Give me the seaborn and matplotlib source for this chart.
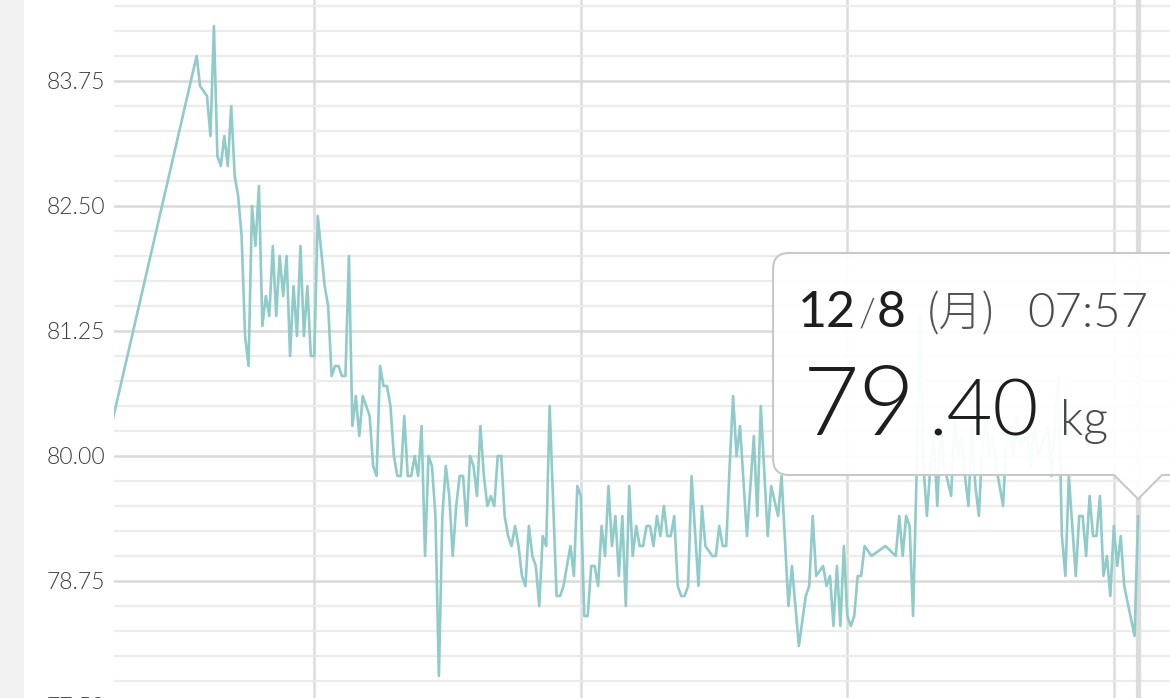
import pandas as pd
import seaborn as sns
import matplotlib.pyplot as plt
import matplotlib.dates as mdates
from matplotlib.ticker import MultipleLocator, FormatStrFormatter
from matplotlib.patches import PathPatch, Rectangle
from matplotlib.path import Path
from matplotlib.transforms import IdentityTransform

# 体重の記録 (最後の計測日からの日数, kg)
last_day = pd.Timestamp('2025-12-08')
days = [
    -302, -272, -271, -269, -268, -267, -266, -265, -264, -263,
    -262, -261, -260, -259, -258, -257, -256, -255, -254, -253,
    -252, -251, -250, -249, -248, -247, -246, -245, -244, -243,
    -242, -241, -240, -239, -238, -237, -235, -234, -233, -232,
    -231, -230, -229, -228, -227, -226, -225, -224, -223, -222,
    -221, -220, -219, -218, -217, -216, -215, -214, -213, -212,
    -211, -210, -209, -208, -207, -206, -205, -204, -203, -202,
    -201, -200, -199, -198, -197, -196, -195, -194, -193, -192,
    -191, -190, -189, -188, -187, -186, -185, -184, -183, -182,
    -181, -180, -179, -178, -177, -176, -175, -174, -173, -172,
    -171, -170, -168, -167, -166, -164, -163, -162, -161, -160,
    -159, -158, -157, -156, -155, -154, -153, -152, -151, -150,
    -149, -148, -147, -146, -145, -144, -143, -142, -141, -140,
    -139, -138, -137, -136, -135, -134, -133, -132, -131, -130,
    -129, -127, -126, -125, -123, -122, -121, -120, -119, -118,
    -117, -116, -115, -113, -111, -110, -109, -107, -106, -104,
    -103, -101, -100, -99, -98, -96, -95, -94, -93, -91,
    -90, -89, -88, -87, -86, -85, -84, -83, -82, -81,
    -80, -79, -77, -73, -70, -69, -68, -67, -66, -65,
    -64, -63, -62, -61, -60, -59, -58, -57, -56, -54,
    -53, -52, -51, -50, -49, -48, -47, -46, -45, -44,
    -43, -42, -41, -39, -38, -37, -36, -35, -34, -32,
    -31, -30, -29, -27, -26, -25, -23, -22, -21, -20,
    -18, -17, -16, -15, -14, -13, -12, -11, -10, -9,
    -8, -7, -6, -5, -4, -1, 0,
]
weights = [
    79.5, 84.0, 83.7, 83.6, 83.2, 84.3, 83.0, 82.9, 83.2, 82.9,
    83.5, 82.8, 82.6, 82.2, 81.2, 80.9, 82.5, 82.1, 82.7, 81.3,
    81.6, 81.4, 82.1, 81.4, 82.0, 81.6, 82.0, 81.0, 81.7, 81.2,
    82.1, 81.2, 81.7, 81.0, 81.0, 82.4, 81.7, 81.5, 80.8, 80.9,
    80.9, 80.8, 80.8, 82.0, 80.3, 80.6, 80.2, 80.6, 80.5, 80.4,
    79.9, 79.8, 80.9, 80.7, 80.7, 80.5, 80.0, 79.8, 79.8, 80.4,
    79.8, 79.8, 80.0, 79.8, 80.3, 79.0, 80.0, 79.9, 79.4, 77.8,
    79.4, 79.9, 79.6, 79.0, 79.5, 79.8, 79.8, 79.3, 80.0, 79.9,
    79.6, 80.3, 79.8, 79.5, 79.6, 79.5, 80.0, 80.0, 79.4, 79.2,
    79.1, 79.3, 79.1, 78.8, 78.7, 79.3, 79.0, 78.9, 78.5, 79.2,
    79.1, 80.5, 78.6, 78.6, 78.7, 79.1, 78.8, 79.7, 79.6, 78.4,
    78.4, 78.9, 78.9, 78.7, 79.3, 79.0, 79.7, 79.1, 79.4, 78.8,
    79.4, 78.5, 79.7, 79.0, 79.3, 79.1, 79.1, 79.3, 79.3, 79.1,
    79.4, 79.2, 79.5, 79.2, 79.2, 79.4, 78.7, 78.6, 78.6, 78.7,
    79.8, 78.7, 79.5, 79.1, 79.0, 79.0, 79.3, 79.1, 79.1, 79.9,
    80.6, 80.0, 80.3, 79.2, 80.2, 79.4, 80.5, 79.2, 79.7, 79.4,
    79.8, 78.5, 78.9, 78.5, 78.1, 78.6, 78.7, 79.4, 78.8, 78.9,
    78.7, 78.8, 78.3, 78.9, 78.3, 79.1, 78.4, 78.3, 78.4, 78.8,
    78.8, 79.1, 79.0, 79.1, 79.0, 79.4, 79.0, 79.4, 79.3, 78.4,
    79.8, 81.4, 79.9, 79.4, 79.9, 80.2, 79.5, 80.3, 79.9, 79.6,
    80.4, 80.0, 80.2, 79.8, 79.5, 80.3, 79.7, 79.4, 80.1, 80.4,
    80.0, 80.2, 79.9, 79.5, 80.2, 80.3, 80.0, 80.4, 80.1, 80.2,
    79.9, 80.3, 80.0, 80.2, 80.3, 79.8, 80.8, 79.2, 78.8, 79.8,
    78.8, 79.4, 79.4, 79.0, 79.6, 79.2, 79.2, 79.6, 78.8, 79.0,
    78.6, 79.3, 78.9, 79.2, 78.7, 78.2, 79.4,
]
assert len(days) == len(weights)

# 縦線 (11週ごとの月曜日)
grid_dates = ['2025-04-14', '2025-06-30', '2025-09-15', '2025-12-01']

# ツールチップの文字
tip_date = ['12', '/', '8']
tip_weekday = '(月)'
tip_time = '07:57'
tip_unit = 'kg'

df = pd.DataFrame({
    'date': last_day + pd.to_timedelta(days, unit='D'),
    'kg': weights,
})

sns.set_theme(style='white')
plt.rcParams['font.family'] = ['Lato', 'Noto Sans CJK JP', 'DejaVu Sans']

W, H = 1170, 698
fig = plt.figure(figsize=(W / 100, H / 100), dpi=100)
fig.patch.set_facecolor('white')
fig.add_artist(Rectangle((0, 0), 24 / W, 1, transform=fig.transFigure,
                         facecolor='#f2f2f2', edgecolor='none', zorder=0))

ax = fig.add_axes([114 / W, -30 / H, 1086 / W, 758 / H])
ax.set_facecolor('none')

line_color = '#8fcbc9'
sns.lineplot(data=df, x='date', y='kg', ax=ax, color=line_color,
             linewidth=1.9, zorder=3)

ax.axvline(last_day, color='#dcdcdc', linewidth=3.8, zorder=2)

ax.set_xlim(last_day - pd.Timedelta(days=295.87), last_day + pd.Timedelta(days=17.9))
ax.set_ylim(77.28, 84.86)

ax.set_xticks(pd.to_datetime(grid_dates))
ax.yaxis.set_major_locator(MultipleLocator(1.25))
ax.yaxis.set_minor_locator(MultipleLocator(0.25))
ax.yaxis.set_major_formatter(FormatStrFormatter('%.2f'))
ax.grid(axis='x', which='major', color='#dcdcdc', linewidth=1.8, zorder=1)
ax.grid(axis='y', which='major', color='#d9d9d9', linewidth=1.8)
ax.grid(axis='y', which='minor', color='#ececec', linewidth=1.6)
ax.set_axisbelow(True)

ax.tick_params(axis='x', length=0, labelbottom=False)
ax.tick_params(axis='y', which='both', length=0, pad=6.5,
               labelsize=16.5, labelcolor='#3c3c3c')
for lab in ax.get_yticklabels():
    lab.set_fontweight(300)
ax.set_xlabel('')
ax.set_ylabel('')
for s in ax.spines.values():
    s.set_visible(False)

# ツールチップ
tx, _ = ax.transData.transform((mdates.date2num(last_day), weights[-1]))
L, B, T, R, r = tx - 365, 223, 445, W + 40, 16
verts = [
    (L + r, T), (R, T), (R, B), (tx + 24, B), (tx, B - 24), (tx - 24, B),
    (L + r, B), (L, B), (L, B + r), (L, T - r), (L, T), (L + r, T), (L + r, T),
]
codes = [Path.MOVETO, Path.LINETO, Path.LINETO, Path.LINETO, Path.LINETO,
         Path.LINETO, Path.LINETO, Path.CURVE3, Path.CURVE3, Path.LINETO,
         Path.CURVE3, Path.CURVE3, Path.CLOSEPOLY]
box = PathPatch(Path(verts, codes), transform=IdentityTransform(),
                facecolor=(1, 1, 1, 0.95), edgecolor='#c8c8c8', linewidth=1.5,
                zorder=5)
fig.add_artist(box)

ident = IdentityTransform()
renderer = fig.canvas.get_renderer()

def put(x, y, s, size, color, weight='normal', family=None):
    kw = {}
    if family:
        kw['family'] = family
    t = fig.text(x, y, s, transform=ident, fontsize=size, color=color,
                 fontweight=weight, ha='left', va='baseline', zorder=6, **kw)
    return t.get_window_extent(renderer).x1

x_end = put(L + 25, 371, tip_date[0], 36, '#1e1e1e')
x_end = put(x_end + 2, 371, tip_date[1], 28, '#555555', 300)
put(x_end + 2, 371, tip_date[2], 36, '#1e1e1e')
put(L + 153, 371, tip_weekday, 31, '#555555', 300,
    ['Noto Sans CJK JP', 'DejaVu Sans'])
put(L + 254, 371, tip_time, 34, '#4a4a4a', 300)

w_int, w_dec = f'{weights[-1]:.2f}'.split('.')
put(L + 30, 263, w_int, 70, '#1e1e1e', 300)
put(L + 155, 263, '.' + w_dec, 57, '#1e1e1e', 300)
put(L + 287, 263, tip_unit, 35, '#4a4a4a', 300)

fig.savefig('out.png', dpi=100, facecolor='white')
